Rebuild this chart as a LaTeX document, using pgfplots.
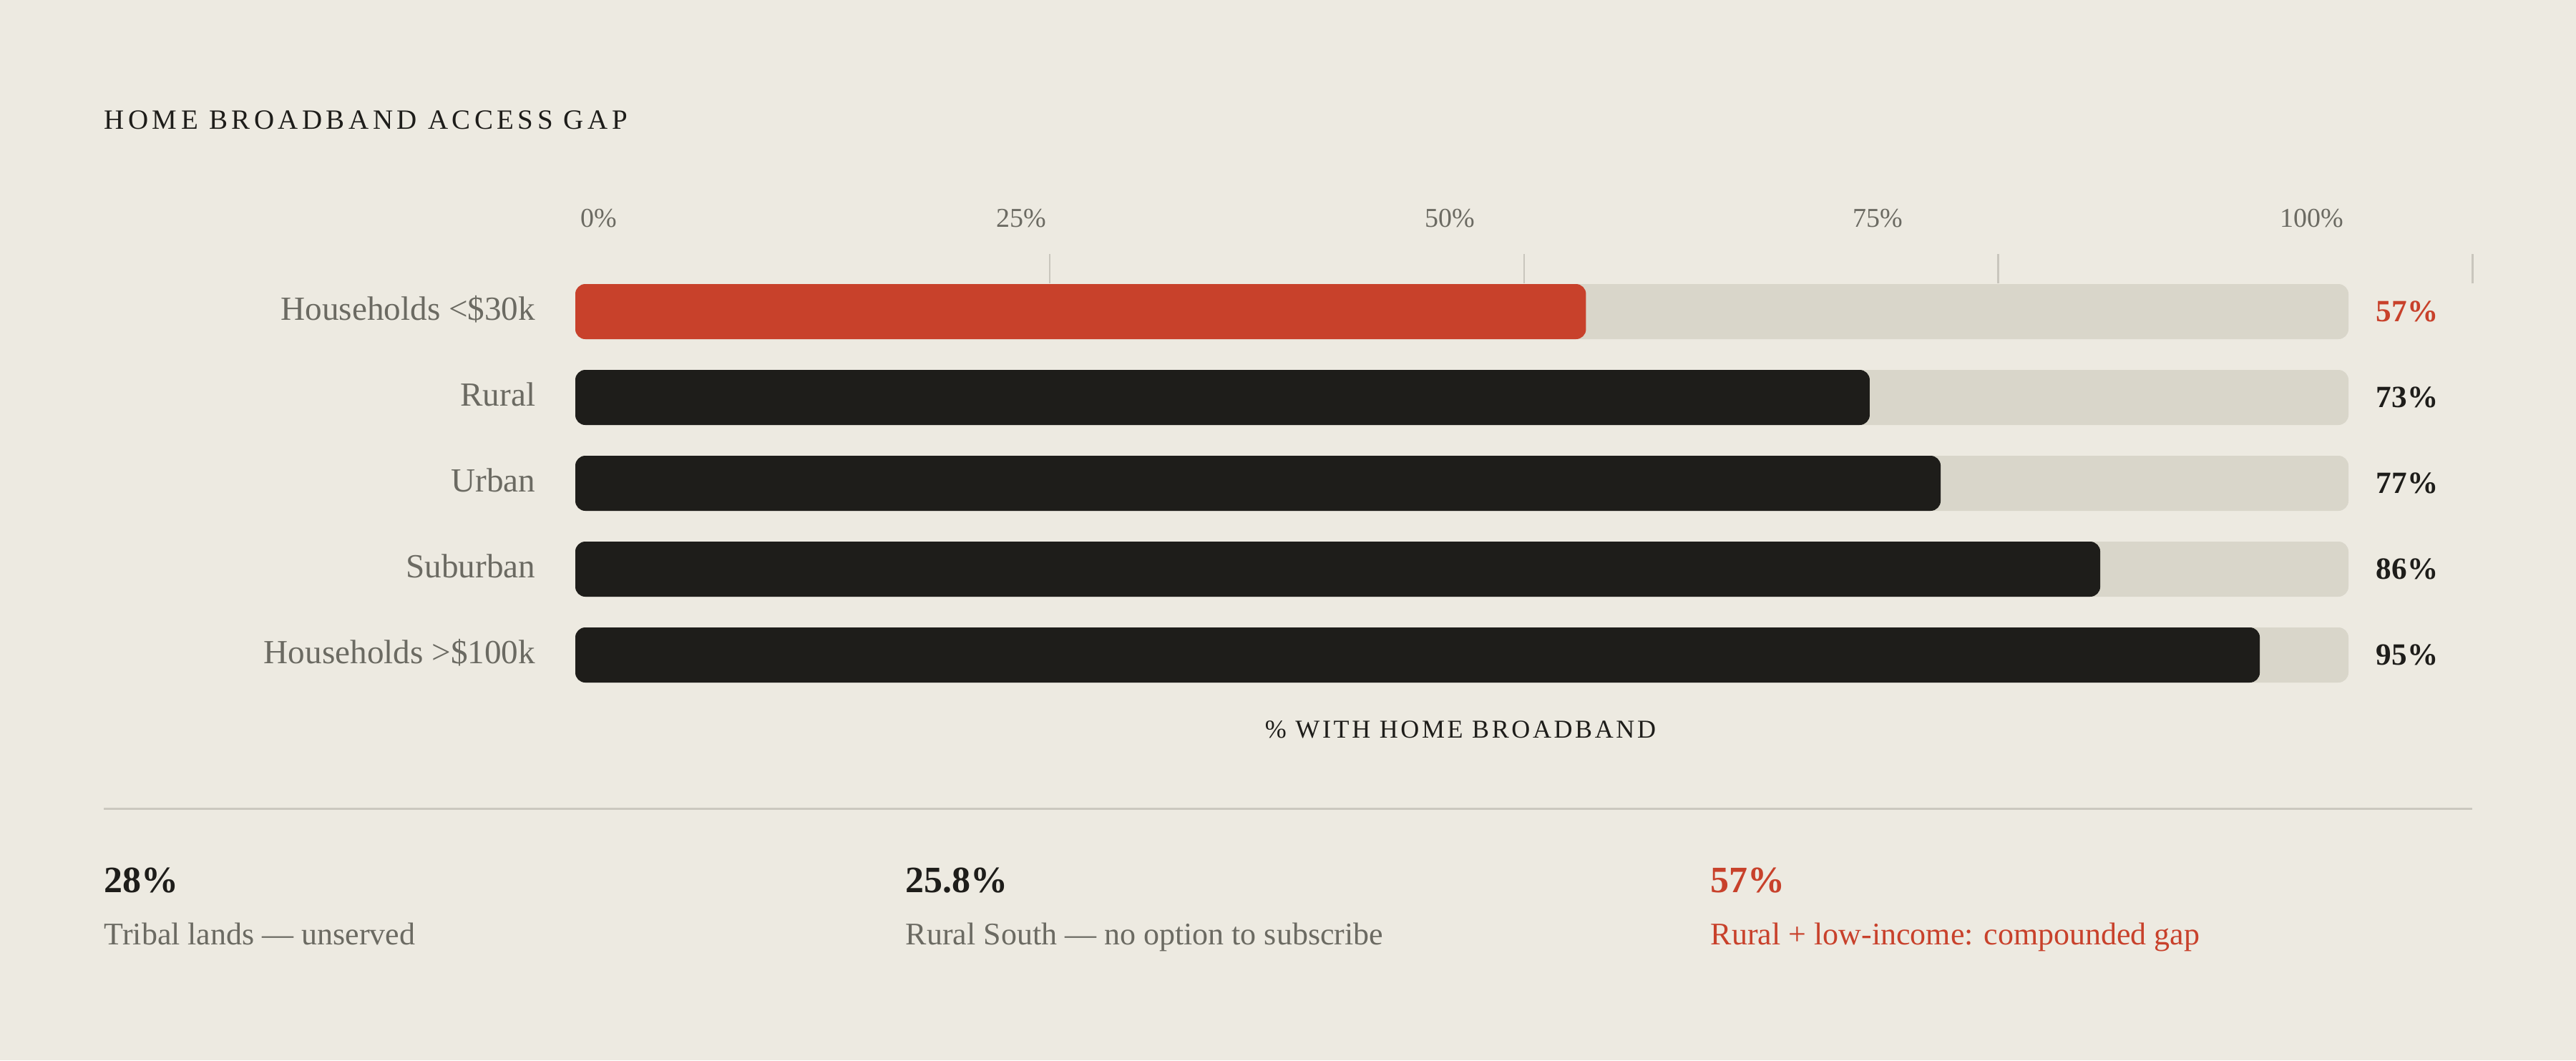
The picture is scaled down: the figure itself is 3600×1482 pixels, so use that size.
\documentclass[border=0pt]{standalone}
\usepackage{pgfplots}
\pgfplotsset{compat=1.18}
\usepackage{fontspec}
\setmainfont{Liberation Serif}
\definecolor{bg}{HTML}{EDEAE1}
\definecolor{track}{HTML}{D9D6CA}
\definecolor{accent}{HTML}{C8412B}
\definecolor{ink}{HTML}{1E1D1A}
\definecolor{muted}{HTML}{6B6A62}
\definecolor{rulec}{HTML}{CBC8BF}
\definecolor{tickc}{HTML}{C9C6BD}
\begin{document}
\begin{tikzpicture}[x=0.25pt,y=0.25pt]
\fill[bg] (0,0) rectangle (3600,1482);
\useasboundingbox (0,0) rectangle (3600,1482);
\node[anchor=base west, inner sep=0pt, text=ink, font=\fontsize{9.75}{12}\selectfont\addfontfeature{LetterSpace=14}] at (145,1301) {HOME BROADBAND ACCESS GAP};
\begin{axis}[
  at={(201pt,126.625pt)}, anchor=south west,
  scale only axis, width=619.5pt, height=150pt,
  xmin=0, xmax=100, ymin=-0.5, ymax=4.5,
  clip=false,
  axis line style={draw=none},
  tick style={draw=none},
  major tick length=0pt,
  xtick={1.33,25.14,49.31,73.45,97.94},
  xticklabels={0\%,25\%,50\%,75\%,100\%},
  xticklabel pos=upper,
  xticklabel style={anchor=base, inner sep=0pt, yshift=14.625pt, text=muted, font=\fontsize{9.5}{11}\selectfont},
  ytick={0,1,2,3,4},
  yticklabels={Households >\$100k, Suburban, Urban, Rural, Households <\$30k},
  yticklabel style={anchor=base east, inner sep=0pt, xshift=-13.75pt, yshift=-3.1pt, text=muted, font=\fontsize{11.8}{14}\selectfont},
]
\addplot[xbar, bar shift=0pt, bar width=0.6417, fill=track, draw=none, rounded corners=3.5pt] coordinates {(100,0) (100,1) (100,2) (100,3) (100,4)};
\addplot[xbar, bar shift=0pt, bar width=0.6417, fill=ink, draw=none, rounded corners=3.5pt] coordinates {(95,0) (86,1) (77,2) (73,3)};
\addplot[xbar, bar shift=0pt, bar width=0.6417, fill=accent, draw=none, rounded corners=3.5pt] coordinates {(57,4)};
\addplot[draw=none, mark=none, point meta=explicit symbolic, nodes near coords,
  every node near coord/.append style={anchor=base west, inner sep=0pt, xshift=9.5pt, yshift=-3.6pt, text=ink, font=\bfseries\fontsize{10.8}{13}\selectfont}]
  coordinates {(100,0) [95\%] (100,1) [86\%] (100,2) [77\%] (100,3) [73\%]};
\addplot[draw=none, mark=none, point meta=explicit symbolic, nodes near coords,
  every node near coord/.append style={anchor=base west, inner sep=0pt, xshift=9.5pt, yshift=-3.6pt, text=accent, font=\bfseries\fontsize{10.8}{13}\selectfont}]
  coordinates {(100,4) [57\%]};
\addplot[tickc, line width=0.6pt] coordinates {(26.75,4.329) (26.75,4.671)};
\addplot[tickc, line width=0.6pt] coordinates {(53.5,4.329) (53.5,4.671)};
\addplot[tickc, line width=0.6pt] coordinates {(80.25,4.329) (80.25,4.671)};
\addplot[tickc, line width=0.6pt] coordinates {(107,4.329) (107,4.671)};
\end{axis}
\node[anchor=base, inner sep=0pt, text=ink, font=\fontsize{9}{11}\selectfont\addfontfeature{LetterSpace=10}] at (2041,451) {\% WITH HOME BROADBAND};
\draw[rulec, line width=0.75pt] (145,352) -- (3455,352);
\node[anchor=base west, inner sep=0pt, text=ink, font=\bfseries\fontsize{13}{15}\selectfont] at (145,235) {28\%};
\node[anchor=base west, inner sep=0pt, text=ink, font=\bfseries\fontsize{13}{15}\selectfont] at (1265,235) {25.8\%};
\node[anchor=base west, inner sep=0pt, text=accent, font=\bfseries\fontsize{13}{15}\selectfont] at (2390,235) {57\%};
\node[anchor=base west, inner sep=0pt, text=muted, font=\fontsize{11}{13}\selectfont] at (145,162) {Tribal lands — unserved};
\node[anchor=base west, inner sep=0pt, text=muted, font=\fontsize{11}{13}\selectfont] at (1265,162) {Rural South — no option to subscribe};
\node[anchor=base west, inner sep=0pt, text=accent, font=\fontsize{11}{13}\selectfont] at (2390,162) {Rural + low-income: compounded gap};
\end{tikzpicture}
\end{document}
